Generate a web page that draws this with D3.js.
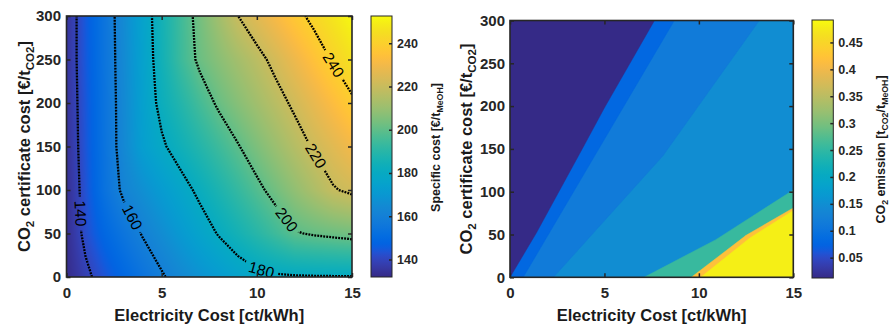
<!DOCTYPE html>
<html><head><meta charset="utf-8">
<script src="https://cdn.jsdelivr.net/npm/d3@7"></script>
<style>
body{margin:0;background:#fff;}
svg{display:block;font-family:"Liberation Sans",Arial,sans-serif;}
</style></head><body>
<svg id="chart" width="891" height="325"></svg>
<script>
// ---------- DATA ----------
const elecGrid = [0,1,2,3,4,5,6,7,8,9,10,11,12,13,14,15];          // ct/kWh
const co2Grid  = [0,50,100,150,200,250,300];                         // €/t CO2
// specific cost [€/t MeOH], one row per co2Grid value
const specificCost = [
  [132.3,138.2,143.5,148.7,153.8,159.0,163.8,167.8,171.5,175.0,177.6,178.8,179.2,179.4,179.5,179.6],
  [132.9,142.0,148.8,154.7,160.6,165.6,170.7,175.7,180.6,185.3,189.9,194.5,199.3,200.9,202.0,203.1],
  [133.2,143.1,153.3,161.7,166.7,171.7,176.7,181.9,187.2,192.5,197.8,203.1,208.5,213.8,219.2,221.9],
  [134.0,143.8,153.8,163.8,173.0,178.7,183.9,189.0,194.2,199.4,204.8,210.2,215.7,221.0,225.6,230.2],
  [134.6,144.0,154.0,164.0,173.9,182.5,188.9,195.4,201.4,206.5,211.5,216.6,221.8,227.4,232.9,238.5],
  [134.9,144.5,154.4,164.4,174.5,184.4,193.9,201.8,206.9,212.0,217.1,222.7,228.8,234.8,240.8,246.0],
  [134.7,144.7,154.6,164.8,175.2,185.0,194.4,203.3,211.6,219.9,225.7,231.4,237.1,242.4,247.2,252.0]
];
const contourLevels = [140,160,180,200,220,240];
const contourLabelAt = [
  {level:140, x:0.7,  y:73},
  {level:160, x:3.4,  y:68},
  {level:180, x:10.2, y:5},
  {level:200, x:11.4, y:63},
  {level:220, x:13.0, y:138},
  {level:240, x:13.9, y:242}
];
const costRange = [131.9, 252.6];
const costBarTicks = [140,160,180,200,220,240];

// CO2 emission regions [t CO2 / t MeOH]: boundary lines (elec cost, co2 cost)
const emissionRange = [0.0122, 0.4917];
const emissionBarTicks = [0.05,0.1,0.15,0.2,0.25,0.3,0.35,0.4,0.45];
const emissionBase   = 0.148;                                   // main region
const edgeMedium     = [[2.3,0],[8.1,142],[13.2,300]];          // left of it: 0.115
const edgeBright     = [[0.7,0],[8.7,300]];                     // left of it: 0.08
const edgeDark       = [[0,0],[1.4,52],[3.8,149],[5.0,198],[7.65,300]]; // left of it: 0.012
const edgeGreen      = [[7.1,0],[10.9,44],[15,102]];            // right of it: 0.256
const edgeOrange     = [[9.6,0],[12.5,49],[15,81]];             // right of it: 0.419
const edgeYellow     = [[10.1,0],[12.7,46],[15,78]];            // right of it: 0.48
const upperLevels = [0.115, 0.08, 0.012];
const lowerLevels = [0.256, 0.419, 0.48];

const xTicks = [0,5,10,15];
const yTicks = [0,50,100,150,200,250,300];

// ---------- COLORMAP (parula) ----------
const parula = [
[0.2081,0.1663,0.5292],[0.2116,0.1898,0.5777],[0.2123,0.2138,0.6270],[0.2081,0.2386,0.6771],
[0.1959,0.2645,0.7279],[0.1707,0.2919,0.7792],[0.1253,0.3242,0.8303],[0.0591,0.3598,0.8683],
[0.0117,0.3875,0.8820],[0.0060,0.4086,0.8828],[0.0165,0.4266,0.8786],[0.0329,0.4430,0.8720],
[0.0498,0.4586,0.8641],[0.0629,0.4737,0.8554],[0.0723,0.4887,0.8467],[0.0779,0.5040,0.8384],
[0.0793,0.5200,0.8312],[0.0749,0.5375,0.8263],[0.0641,0.5570,0.8240],[0.0488,0.5772,0.8228],
[0.0343,0.5966,0.8199],[0.0265,0.6137,0.8135],[0.0239,0.6287,0.8038],[0.0231,0.6418,0.7913],
[0.0228,0.6535,0.7768],[0.0267,0.6642,0.7607],[0.0384,0.6743,0.7436],[0.0590,0.6838,0.7254],
[0.0843,0.6928,0.7062],[0.1133,0.7015,0.6859],[0.1453,0.7098,0.6646],[0.1801,0.7177,0.6424],
[0.2178,0.7250,0.6193],[0.2586,0.7317,0.5954],[0.3022,0.7376,0.5712],[0.3482,0.7424,0.5473],
[0.3953,0.7459,0.5244],[0.4420,0.7481,0.5033],[0.4871,0.7491,0.4840],[0.5300,0.7491,0.4661],
[0.5709,0.7485,0.4494],[0.6099,0.7473,0.4337],[0.6473,0.7456,0.4188],[0.6834,0.7435,0.4044],
[0.7184,0.7411,0.3905],[0.7525,0.7384,0.3768],[0.7858,0.7356,0.3633],[0.8185,0.7327,0.3498],
[0.8507,0.7299,0.3360],[0.8824,0.7274,0.3217],[0.9139,0.7258,0.3063],[0.9450,0.7261,0.2886],
[0.9739,0.7314,0.2666],[0.9938,0.7455,0.2403],[0.9990,0.7653,0.2164],[0.9955,0.7861,0.1967],
[0.9880,0.8066,0.1794],[0.9789,0.8271,0.1633],[0.9697,0.8481,0.1475],[0.9626,0.8705,0.1309],
[0.9589,0.8949,0.1132],[0.9598,0.9218,0.0948],[0.9661,0.9514,0.0755],[0.9763,0.9831,0.0538]];
function parulaRGB(t){
  t = Math.max(0, Math.min(1, t));
  const p = t*(parula.length-1), i = Math.min(parula.length-2, Math.floor(p)), f = p-i;
  return parula[i].map((c,k)=>Math.round(255*(c + f*(parula[i+1][k]-c))));
}
const rgbStr = a => `rgb(${a[0]},${a[1]},${a[2]})`;

// ---------- SETUP ----------
const svg = d3.select("#chart");
const defs = svg.append("defs");
const axisColor = "#262626";
const FONT_TICK = 15, FONT_TITLE = 16.5, FONT_CB = 12.5;

const xL = d3.scaleLinear([0,15],[66.5,352]);
const yL = d3.scaleLinear([0,300],[277,16]);
const xR = d3.scaleLinear([0,15],[510,793.3]);
const yR = d3.scaleLinear([0,300],[277.3,20.5]);
const costT = d3.scaleLinear(costRange,[0,1]);
const emisT = d3.scaleLinear(emissionRange,[0,1]);

function clip(id, xs, ys){
  defs.append("clipPath").attr("id",id).append("rect")
    .attr("x",xs.range()[0]).attr("y",ys.range()[1])
    .attr("width",xs.range()[1]-xs.range()[0]).attr("height",ys.range()[0]-ys.range()[1]);
}
clip("clipL", xL, yL); clip("clipR", xR, yR);

// ---------- LEFT HEATMAP ----------
function costAt(x, y){
  const i = Math.max(0, Math.min(elecGrid.length-2, d3.bisectRight(elecGrid, x)-1));
  const j = Math.max(0, Math.min(co2Grid.length-2, d3.bisectRight(co2Grid, y)-1));
  const tx = Math.max(0,Math.min(1,(x-elecGrid[i])/(elecGrid[i+1]-elecGrid[i])));
  const ty = Math.max(0,Math.min(1,(y-co2Grid[j])/(co2Grid[j+1]-co2Grid[j])));
  const a=specificCost[j][i], b=specificCost[j][i+1], c=specificCost[j+1][i+1], d=specificCost[j+1][i];
  return a*(1-tx)*(1-ty) + b*tx*(1-ty) + c*tx*ty + d*(1-tx)*ty;
}
{
  const X0 = Math.floor(xL.range()[0]), X1 = Math.ceil(xL.range()[1]);
  const Y0 = Math.floor(yL.range()[1]), Y1 = Math.ceil(yL.range()[0]);
  const W = X1-X0, H = Y1-Y0;
  const cv = document.createElement("canvas"); cv.width=W; cv.height=H;
  const ctx = cv.getContext("2d"); const img = ctx.createImageData(W,H);
  for(let py=0; py<H; py++){
    const dy = yL.invert(Y0+py+0.5);
    for(let px=0; px<W; px++){
      const dx = xL.invert(X0+px+0.5);
      const col = parulaRGB(costT(costAt(dx,dy)));
      const o = 4*(py*W+px);
      img.data[o]=col[0]; img.data[o+1]=col[1]; img.data[o+2]=col[2]; img.data[o+3]=255;
    }
  }
  ctx.putImageData(img,0,0);
  svg.append("image").attr("x",X0).attr("y",Y0).attr("width",W).attr("height",H)
    .attr("href", cv.toDataURL()).attr("clip-path","url(#clipL)");
}

// ---------- CONTOURS ----------
function isolines(grid, xs, ys, level){
  const segs=[]; const nx=xs.length, ny=ys.length;
  const interp=(x1,y1,v1,x2,y2,v2)=>{const t=(level-v1)/(v2-v1); return [x1+t*(x2-x1), y1+t*(y2-y1)];};
  for(let j=0;j<ny-1;j++) for(let i=0;i<nx-1;i++){
    const a=grid[j][i], b=grid[j][i+1], c=grid[j+1][i+1], d=grid[j+1][i];
    const A=a>=level,B=b>=level,C=c>=level,D=d>=level;
    const pts={}, keys={};
    if(A!==B){pts[0]=interp(xs[i],ys[j],a,xs[i+1],ys[j],b); keys[0]=`h${i}_${j}`;}
    if(B!==C){pts[1]=interp(xs[i+1],ys[j],b,xs[i+1],ys[j+1],c); keys[1]=`v${i+1}_${j}`;}
    if(D!==C){pts[2]=interp(xs[i],ys[j+1],d,xs[i+1],ys[j+1],c); keys[2]=`h${i}_${j+1}`;}
    if(A!==D){pts[3]=interp(xs[i],ys[j],a,xs[i],ys[j+1],d); keys[3]=`v${i}_${j}`;}
    const idx=Object.keys(pts).map(Number);
    const add=(p,q)=>segs.push([keys[p],pts[p],keys[q],pts[q]]);
    if(idx.length===2) add(idx[0],idx[1]);
    else if(idx.length===4){
      const ctr=(a+b+c+d)/4>=level;
      if(ctr===A){add(0,1);add(2,3);} else {add(0,3);add(1,2);}
    }
  }
  const byKey=new Map();
  segs.forEach((s,k)=>{[s[0],s[2]].forEach(key=>{if(!byKey.has(key))byKey.set(key,[]);byKey.get(key).push(k);});});
  const used=new Array(segs.length).fill(false);
  const lines=[];
  function walk(k, entryKey){
    const line=[];
    let cur=k, key=entryKey;
    line.push(segs[cur][0]===key?segs[cur][1]:segs[cur][3]);
    while(cur!==undefined && !used[cur]){
      used[cur]=true;
      const s=segs[cur];
      const exitKey = s[0]===key ? s[2] : s[0];
      const exitPt  = s[0]===key ? s[3] : s[1];
      line.push(exitPt);
      key=exitKey;
      cur=(byKey.get(key)||[]).find(m=>!used[m]);
    }
    lines.push(line);
  }
  segs.forEach((s,k)=>{ if(used[k]) return;
    if(byKey.get(s[0]).length===1) walk(k,s[0]);
    else if(byKey.get(s[2]).length===1) walk(k,s[2]); });
  segs.forEach((s,k)=>{ if(!used[k]) walk(k,s[0]); });
  return lines;
}

const mask = defs.append("mask").attr("id","labelMask").attr("maskUnits","userSpaceOnUse")
  .attr("x",0).attr("y",0).attr("width",891).attr("height",325);
mask.append("rect").attr("width",891).attr("height",325).attr("fill","white");

const lineGen = d3.line().x(d=>xL(d[0])).y(d=>yL(d[1]));
const contourG = svg.append("g").attr("clip-path","url(#clipL)")
  .append("g").attr("mask","url(#labelMask)");
const labelG = svg.append("g").attr("clip-path","url(#clipL)");
const allLines = {};
contourLevels.forEach(lv=>{
  const lines = isolines(specificCost, elecGrid, co2Grid, lv);
  allLines[lv]=lines;
  lines.forEach(l=>{
    contourG.append("path").attr("d",lineGen(l)).attr("fill","none")
      .attr("stroke","#000").attr("stroke-width",2.3).attr("stroke-dasharray","1.9,1.1");
  });
});
contourLabelAt.forEach(lb=>{
  const tx=xL(lb.x), ty=yL(lb.y);
  let best=null;
  (allLines[lb.level]||[]).forEach(l=>{
    for(let k=0;k<l.length-1;k++){
      const p=[xL(l[k][0]),yL(l[k][1])], q=[xL(l[k+1][0]),yL(l[k+1][1])];
      const vx=q[0]-p[0], vy=q[1]-p[1], L2=vx*vx+vy*vy||1e-9;
      let t=((tx-p[0])*vx+(ty-p[1])*vy)/L2; t=Math.max(0,Math.min(1,t));
      const cx=p[0]+t*vx, cy=p[1]+t*vy, dd=(cx-tx)**2+(cy-ty)**2;
      if(!best||dd<best.d) best={d:dd,x:cx,y:cy,ang:Math.atan2(vy,vx)*180/Math.PI};
    }
  });
  if(!best) return;
  let a=best.ang; if(a>90)a-=180; if(a<=-90)a+=180;
  const t = labelG.append("text").attr("transform",`translate(${best.x},${best.y}) rotate(${a})`)
    .attr("text-anchor","middle").attr("dy","0.35em").attr("font-size",15.5).attr("fill","#000")
    .text(lb.level);
  const w = t.node().getComputedTextLength();
  mask.append("rect").attr("x",-w/2-4).attr("y",-7).attr("width",w+8).attr("height",14)
    .attr("transform",`translate(${best.x},${best.y}) rotate(${a})`).attr("fill","black");
});

// ---------- RIGHT REGIONS ----------
{
  const g = svg.append("g").attr("clip-path","url(#clipR)");
  const pl = d3.line().x(d=>xR(d[0])).y(d=>yR(d[1]));
  const col = v => rgbStr(parulaRGB(emisT(v)));
  g.append("rect").attr("x",xR(0)).attr("y",yR(300)).attr("width",xR(15)-xR(0)).attr("height",yR(0)-yR(300))
    .attr("fill",col(emissionBase));
  [edgeMedium, edgeBright, edgeDark].forEach((e,k)=>{
    const poly=[...e,[0,300],[0,0]];
    g.append("path").attr("d",pl(poly)+"Z").attr("fill",col(upperLevels[k]))
      .attr("stroke",col(upperLevels[k])).attr("stroke-width",0.5);
  });
  [edgeGreen, edgeOrange, edgeYellow].forEach((e,k)=>{
    const poly=[...e,[15,0]];
    g.append("path").attr("d",pl(poly)+"Z").attr("fill",col(lowerLevels[k]))
      .attr("stroke",col(lowerLevels[k])).attr("stroke-width",0.5);
  });
}

// ---------- AXES ----------
function styleAxis(g, fs){
  g.attr("font-family",null).attr("font-size",fs).attr("font-weight","bold");
  g.select(".domain").remove();
  g.selectAll("line").attr("stroke",axisColor).attr("stroke-width",1.5);
  g.selectAll("text").attr("fill",axisColor);
}
function drawAxes(xs, ys, padY){
  const xb=ys.range()[0], xt=ys.range()[1], yl=xs.range()[0], yr=xs.range()[1];
  svg.append("g").attr("transform",`translate(0,${xb})`)
    .call(d3.axisBottom(xs).tickValues(xTicks).tickSize(-4).tickSizeOuter(0).tickPadding(10).tickFormat(d3.format("d")))
    .call(g=>styleAxis(g,FONT_TICK));
  svg.append("g").attr("transform",`translate(0,${xt})`)
    .call(d3.axisTop(xs).tickValues(xTicks).tickSize(-4).tickSizeOuter(0).tickFormat(""))
    .call(g=>styleAxis(g,FONT_TICK));
  svg.append("g").attr("transform",`translate(${yl},0)`)
    .call(d3.axisLeft(ys).tickValues(yTicks).tickSize(-4).tickSizeOuter(0).tickPadding(padY).tickFormat(d3.format("d")))
    .call(g=>styleAxis(g,FONT_TICK));
  svg.append("g").attr("transform",`translate(${yr},0)`)
    .call(d3.axisRight(ys).tickValues(yTicks).tickSize(-4).tickSizeOuter(0).tickFormat(""))
    .call(g=>styleAxis(g,FONT_TICK));
  svg.append("rect").attr("x",yl).attr("y",xt).attr("width",yr-yl).attr("height",xb-xt)
    .attr("fill","none").attr("stroke",axisColor).attr("stroke-width",1.6);
}
drawAxes(xL, yL, 5.5);
drawAxes(xR, yR, 5);

// ---------- COLORBARS ----------
function colorbar(id, x0, x1, scale, ticks, fmt){
  const grad = defs.append("linearGradient").attr("id",id).attr("x1",0).attr("y1",1).attr("x2",0).attr("y2",0);
  parula.forEach((c,k)=>grad.append("stop").attr("offset",k/(parula.length-1)).attr("stop-color",rgbStr(c.map(v=>Math.round(v*255)))));
  const y0=scale.range()[1], y1=scale.range()[0];
  svg.append("rect").attr("x",x0).attr("y",y0).attr("width",x1-x0).attr("height",y1-y0)
    .attr("fill",`url(#${id})`).attr("stroke",axisColor).attr("stroke-width",1);
  svg.append("g").attr("transform",`translate(${x1},0)`)
    .call(d3.axisRight(scale).tickValues(ticks).tickSize(-3).tickSizeOuter(0).tickPadding(5).tickFormat(fmt))
    .call(g=>styleAxis(g,FONT_CB));
}
colorbar("gradL", 371, 392, d3.scaleLinear(costRange,[277,16]), costBarTicks, d3.format("d"));
colorbar("gradR", 812, 833.3, d3.scaleLinear(emissionRange,[278,20]), emissionBarTicks, d3.format("~g"));

// ---------- TITLES ----------
function richText(x, y, rot, fs, parts){
  const t = svg.append("text").attr("transform",`translate(${x},${y}) rotate(${rot})`)
    .attr("text-anchor","middle").attr("font-weight","bold").attr("font-size",fs).attr("fill","#1a1a1a");
  let shift=0;
  parts.forEach(p=>{
    const sub = p[1]==="sub";
    const target = sub ? fs*0.27 : 0;
    t.append("tspan").attr("dy", target-shift).attr("font-size", sub? fs*0.7 : fs).text(p[0]);
    shift = target;
  });
  return t;
}
const xTitle = [["Electricity Cost [ct/kWh]"]];
const yTitle = [["CO"],["2","sub"],[" certificate cost [€/t"],["CO2","sub"],["]"]];
const costTitle = [["Specific cost [€/t"],["MeOH","sub"],["]"]];
const emisTitle = [["CO"],["2","sub"],[" emission [t"],["CO2","sub"],["/t"],["MeOH","sub"],["]"]];
richText((xL.range()[0]+xL.range()[1])/2, 321, 0, FONT_TITLE, xTitle);
richText((xR.range()[0]+xR.range()[1])/2, 321, 0, FONT_TITLE, xTitle);
richText(30, 146.5, -90, FONT_TITLE, yTitle);
richText(472, 149, -90, FONT_TITLE, yTitle);
richText(440, 147.5, -90, FONT_CB, costTitle);
richText(885, 149.5, -90, FONT_CB, emisTitle);
</script>
</body></html>
